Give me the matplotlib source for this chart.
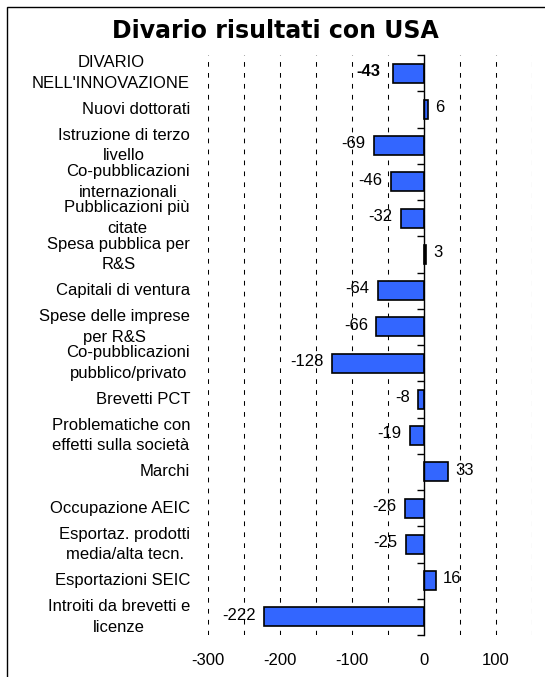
import matplotlib
matplotlib.use("Agg")
import matplotlib.pyplot as plt
import matplotlib.transforms as mtransforms
from matplotlib.patches import Rectangle

plt.rcParams['font.family'] = ['Liberation Sans', 'DejaVu Sans']

# data
categories = [
    "DIVARIO\nNELL'INNOVAZIONE",
    "Nuovi dottorati",
    "Istruzione di terzo\nlivello",
    "Co-pubblicazioni\ninternazionali",
    "Pubblicazioni più\ncitate",
    "Spesa pubblica per\nR&S",
    "Capitali di ventura",
    "Spese delle imprese\nper R&S",
    "Co-pubblicazioni\npubblico/privato",
    "Brevetti PCT",
    "Problematiche con\neffetti sulla società",
    "Marchi",
    "Occupazione AEIC",
    "Esportaz. prodotti\nmedia/alta tecn.",
    "Esportazioni SEIC",
    "Introiti da brevetti e\nlicenze",
]
values = [-43, 6, -69, -46, -32, 3, -64, -66, -128, -8, -19, 33, -26, -25, 16, -222]
xticks = [-300, -200, -100, 0, 100]

W, H = 545, 677
fs = 12
fig = plt.figure(figsize=(W / 100, H / 100), dpi=100)
ax = fig.add_axes([208 / W, 1 - 635 / H, (532 - 208) / W, (635 - 55) / H])

# outer frame (left and top edges visible)
fig.patches.append(Rectangle((7 / W, -0.05), 1.1, 1 - 7 / H + 0.05,
                             transform=fig.transFigure, fill=False,
                             edgecolor='black', linewidth=1.0))

ypos = list(range(len(categories)))
colors = ['#3366FF'] * len(values)
colors[5] = 'black'
ax.barh(ypos, values, height=0.52, color=colors, edgecolor='black', linewidth=1.2, zorder=3)

ax.set_xlim(-300, 150)
ax.set_ylim(len(categories) - 0.5, -0.5)

for x in range(-300, 151, 50):
    ax.axvline(x, color='black', linewidth=0.75, linestyle=(0, (4.5, 6)), zorder=1)

for s in ['top', 'right', 'bottom']:
    ax.spines[s].set_visible(False)
ax.spines['left'].set_position(('data', 0))
ax.spines['left'].set_linewidth(1.0)
ax.spines['left'].set_zorder(4)
ax.set_yticks([i - 0.5 for i in range(len(categories) + 1)])
ax.set_yticklabels([])
ax.tick_params(axis='y', direction='out', length=5, width=1.0)
ax.set_xticks(xticks)
ax.set_xticklabels([str(v) for v in xticks], fontsize=fs)
ax.tick_params(axis='x', length=0, pad=13)

# category labels on the left
trans = mtransforms.blended_transform_factory(fig.transFigure, ax.transData)
for y, lab in zip(ypos, categories):
    ax.text(190 / W, y, lab, transform=trans, ha='right', va='center',
            multialignment='center', fontsize=fs, linespacing=1.45)

# value labels
for y, v in zip(ypos, values):
    if v < 0:
        off = 17 if y == 0 else 12
        ax.text(v - off, y - 0.05, str(v), ha='right', va='center', fontsize=fs,
                fontweight='bold' if y == 0 else 'normal', zorder=5)
    else:
        ax.text(v + 10, y - 0.05, str(v), ha='left', va='center', fontsize=fs, zorder=5)

fig.text(275 / W, 1 - 31 / H, "Divario risultati con USA", ha='center', va='center',
         fontsize=17, fontweight='bold', family=['DejaVu Sans'])

fig.savefig("out.png", dpi=100)
